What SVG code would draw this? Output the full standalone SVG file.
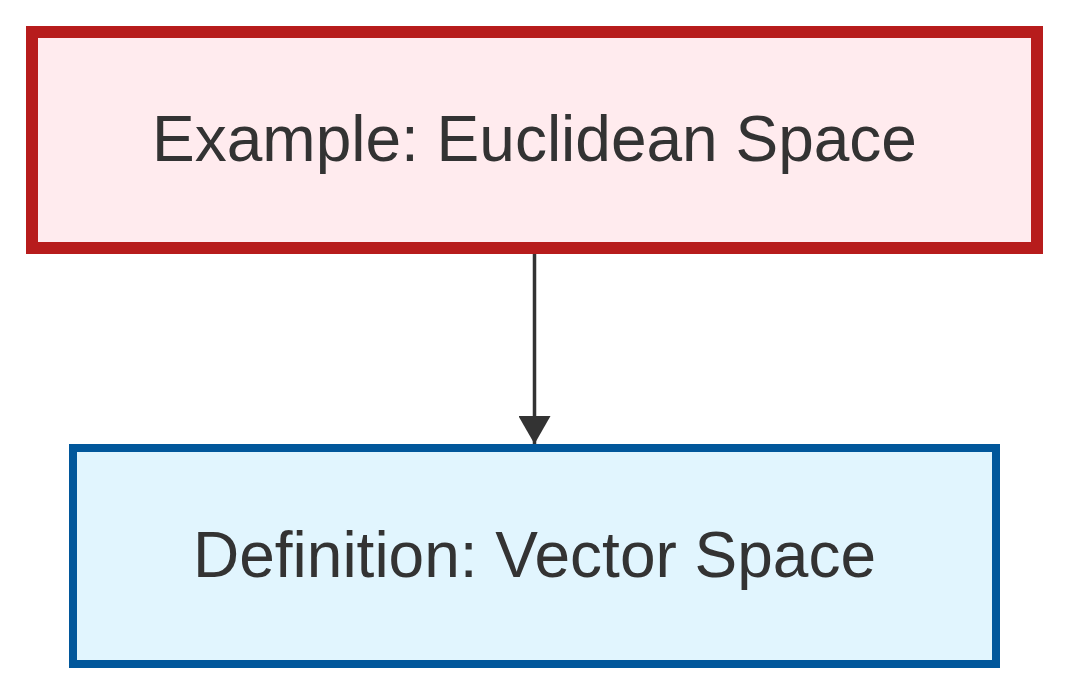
<svg xmlns="http://www.w3.org/2000/svg" width="1068" height="696" viewBox="0 0 1068 696">
<style>
.lbl{font-family:"Liberation Sans",Arial,sans-serif;font-size:64px;fill:#333333;text-anchor:middle}
.edge{stroke:#333333;stroke-width:3.5;fill:none}
</style>
<defs>
<marker id="arr" markerUnits="userSpaceOnUse" viewBox="0 0 28 32" markerWidth="28" markerHeight="32" refX="28" refY="16" orient="auto">
<path d="M0,0 L28,16 L0,32 Z" fill="#333333"/>
</marker>
</defs>
<rect width="1068" height="696" fill="#ffffff"/>
<g id="connectors">
<line class="edge" x1="534.5" y1="254" x2="534.5" y2="444" marker-end="url(#arr)"/>
</g>
<g id="euclidean">
<rect x="32" y="32" width="1005" height="216" fill="#ffebee" stroke="#b71c1c" stroke-width="12"/>
<text class="lbl" x="534.5" y="161">Example: Euclidean Space</text>
</g>
<g id="vectorspace">
<rect x="73" y="448" width="923" height="216" fill="#e1f5fe" stroke="#01579b" stroke-width="8"/>
<text class="lbl" x="534.5" y="577">Definition: Vector Space</text>
</g>
</svg>
